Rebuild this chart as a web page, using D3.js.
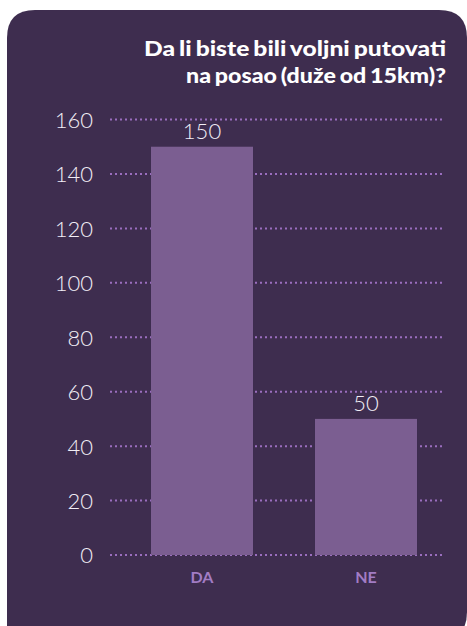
<!DOCTYPE html>
<html>
<head>
<meta charset="utf-8">
<script src="https://cdnjs.cloudflare.com/ajax/libs/d3/7.8.5/d3.min.js"></script>
<style>
  body { margin: 0; background: #fff; }
</style>
</head>
<body>
<div id="chart"></div>
<script>
// data
const categories = ["DA", "NE"];
const values = [150, 50];
const yTicks = [0, 20, 40, 60, 80, 100, 120, 140, 160];
const titleLines = ["Da li biste bili voljni putovati", "na posao (duže od 15km)?"];
const titleWidths = [302, 260];

const width = 467, height = 626;

const svg = d3.select("#chart")
    .append("svg")
    .attr("width", width)
    .attr("height", height)
    .style("display", "block");

// panel background - rounded top corners, cut off at the bottom
const px0 = 7, py0 = 10, px1 = 467, py1 = 640, r = 28;
svg.append("path")
    .attr("d", `M${px0},${py1} L${px0},${py0 + r} Q${px0},${py0} ${px0 + r},${py0}
        L${px1 - r},${py0} Q${px1},${py0} ${px1},${py0 + r} L${px1},${py1 - r}
        Q${px1},${py1} ${px1 - r},${py1} Z`)
    .attr("fill", "#3e2d4f");

// title
const title = svg.append("text")
    .attr("text-anchor", "end")
    .attr("font-family", "Lato")
    .attr("font-weight", 900)
    .attr("font-size", 20)
    .attr("word-spacing", -1.5)
    .attr("fill", "#ffffff");
title.selectAll("tspan")
    .data(titleLines)
    .join("tspan")
    .attr("x", 446)
    .attr("y", (d, i) => 56 + i * 27)
    .attr("textLength", (d, i) => titleWidths[i])
    .attr("lengthAdjust", "spacingAndGlyphs")
    .text(d => d);

const y = d3.scaleLinear()
    .domain([0, 160])
    .range([555, 119.5]);

const x = d3.scaleBand()
    .domain(categories)
    .range([120, 448])
    .paddingInner(0.378)
    .paddingOuter(0.189);

// grid lines (dotted)
svg.append("g")
    .selectAll("line")
    .data(yTicks)
    .join("line")
    .attr("x1", 110)
    .attr("x2", 444)
    .attr("y1", d => y(d))
    .attr("y2", d => y(d))
    .attr("stroke", "#9a6ebf")
    .attr("stroke-width", 2)
    .attr("stroke-dasharray", "2 3");

// y axis labels
const yAxis = svg.append("g")
    .attr("transform", "translate(93,0)")
    .call(d3.axisLeft(y).tickValues(yTicks).tickSize(0).tickPadding(0));
yAxis.select(".domain").remove();
yAxis.selectAll("text")
    .attr("fill", "#f2eef6")
    .attr("font-family", "Lato")
    .attr("font-weight", 300)
    .attr("font-size", 22)
    .attr("dy", "0.36em");

// bars
svg.append("g")
    .selectAll("rect")
    .data(values)
    .join("rect")
    .attr("x", (d, i) => x(categories[i]))
    .attr("y", d => y(d))
    .attr("width", x.bandwidth())
    .attr("height", d => y(0) - y(d))
    .attr("fill", "#7b5e91");

// value labels
svg.append("g")
    .selectAll("text")
    .data(values)
    .join("text")
    .attr("x", (d, i) => x(categories[i]) + x.bandwidth() / 2)
    .attr("y", d => y(d) - 8)
    .attr("text-anchor", "middle")
    .attr("font-family", "Lato")
    .attr("font-weight", 300)
    .attr("font-size", 22)
    .attr("fill", "#f2eef6")
    .text(d => d);

// category labels
const xAxis = svg.append("g")
    .attr("transform", `translate(0,${y(0)})`)
    .call(d3.axisBottom(x).tickSize(0).tickPadding(0));
xAxis.select(".domain").remove();
xAxis.selectAll("text")
    .attr("y", 28)
    .attr("dy", 0)
    .attr("fill", "#a27cc4")
    .attr("font-family", "Lato")
    .attr("font-weight", 700)
    .attr("font-size", 16);
</script>
</body>
</html>
